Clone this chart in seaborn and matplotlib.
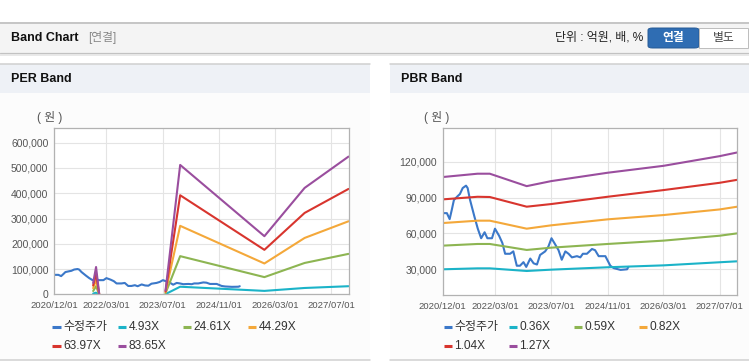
import pandas as pd
import numpy as np
import matplotlib
matplotlib.use('Agg')
import matplotlib.pyplot as plt
import matplotlib.dates as mdates
import seaborn as sns
from matplotlib.patches import Rectangle, FancyBboxPatch
from matplotlib.lines import Line2D
from matplotlib.ticker import FuncFormatter

# ---- data ----
price_dates = ['2020-12-01', '2021-01-08', '2021-02-01', '2021-02-20', '2021-03-10', '2021-04-09',
               '2021-05-01', '2021-05-25', '2021-06-23', '2021-07-07', '2021-07-28', '2021-09-04',
               '2021-10-03', '2021-11-01', '2021-12-01', '2021-12-25', '2022-02-03', '2022-03-01',
               '2022-04-06', '2022-05-04', '2022-05-28', '2022-07-10', '2022-08-07', '2022-09-06',
               '2022-10-04', '2022-11-03', '2022-11-27', '2023-01-01', '2023-01-30', '2023-02-28',
               '2023-03-27', '2023-05-10', '2023-06-07', '2023-07-04', '2023-08-04', '2023-09-03',
               '2023-10-01', '2023-11-01', '2023-11-29', '2023-12-28', '2024-02-10', '2024-03-10',
               '2024-04-01', '2024-05-06', '2024-06-19', '2024-07-16', '2024-08-16', '2024-10-13',
               '2024-11-25', '2024-12-25', '2025-02-22', '2025-04-19', '2025-05-01']
price_vals = [77000, 77000, 72000, 80000, 88000, 91000,
              93000, 98000, 100000, 98000, 88000, 74000,
              64000, 56000, 61000, 56000, 56000, 64000,
              58000, 52000, 43000, 43000, 45000, 33000,
              33000, 36000, 32000, 39000, 35000, 34000,
              42000, 45000, 49000, 56000, 51000, 46000,
              38000, 45000, 43000, 40000, 41000, 40000,
              43000, 43000, 47000, 46000, 41000, 41000,
              33000, 31000, 29500, 30000, 32000]

per_labels = ['4.93X', '24.61X', '44.29X', '63.97X', '83.65X']
per_spike_dates = ['2021-11-06', '2021-12-01', '2021-12-28']
per_spike_vals = [[3000, 6400, 200],
                  [13000, 32000, 900],
                  [24000, 57000, 1500],
                  [35000, 83000, 2000],
                  [45000, 108000, 3000]]
per_main_dates = ['2023-07-27', '2023-12-01', '2025-12-01', '2026-11-15', '2027-12-01']
per_main_vals = [[800, 30000, 13500, 25000, 32000],
                 [4000, 151000, 68000, 124000, 160000],
                 [8000, 271000, 122000, 223000, 289000],
                 [11000, 392000, 176000, 322000, 417000],
                 [15000, 512000, 230000, 421000, 545000]]

pbr_labels = ['0.36X', '0.59X', '0.82X', '1.04X', '1.27X']
pbr_dates = ['2020-12-01', '2021-10-01', '2022-01-15', '2022-12-01', '2023-07-01',
             '2024-11-01', '2026-03-01', '2027-07-01', '2027-12-01']
pbr_vals = [[30000, 30800, 30800, 28600, 29700, 31700, 33300, 35900, 36700],
            [49800, 51200, 51200, 46200, 48100, 51200, 54000, 58100, 60100],
            [68700, 70700, 70700, 64000, 66800, 71800, 75400, 80100, 82400],
            [88500, 90700, 90500, 82400, 84600, 90700, 96300, 102400, 104900],
            [107200, 110000, 110000, 99600, 103800, 110800, 116600, 124700, 127800]]

xtick_dates = ['2020-12-01', '2022-03-01', '2023-07-01', '2024-11-01', '2026-03-01', '2027-07-01']

price_color = '#3b78c9'
band_colors = ['#1bb3c8', '#8db552', '#f4a83a', '#d8352e', '#9a4e9e']

# ---- long tables for seaborn ----
price_df = pd.DataFrame({'date': pd.to_datetime(price_dates), 'value': price_vals})

rows = []
for name, sv, mv in zip(per_labels, per_spike_vals, per_main_vals):
    for d, v in zip(per_spike_dates, sv):
        rows.append((d, v, name, 0))
    for d, v in zip(per_main_dates, mv):
        rows.append((d, v, name, 1))
per_df = pd.DataFrame(rows, columns=['date', 'value', 'band', 'seg'])
per_df['date'] = pd.to_datetime(per_df['date'])

rows = []
for name, vals in zip(pbr_labels, pbr_vals):
    for d, v in zip(pbr_dates, vals):
        rows.append((d, v, name))
pbr_df = pd.DataFrame(rows, columns=['date', 'value', 'band'])
pbr_df['date'] = pd.to_datetime(pbr_df['date'])

sns.set_style('white')
plt.rcParams['font.family'] = ['Liberation Sans', 'Noto Sans CJK KR']
plt.rcParams['axes.unicode_minus'] = False

W, H = 749, 364
fig = plt.figure(figsize=(W / 100, H / 100), dpi=100)
fig.patch.set_facecolor('white')


def fx(px):
    return px / W


def fy(py):
    return 1 - py / H


def box(x0, y0, x1, y1, **kw):
    kw.setdefault('zorder', -5)
    fig.add_artist(Rectangle((fx(x0), fy(y1)), (x1 - x0) / W, (y1 - y0) / H,
                             transform=fig.transFigure, **kw))


def hline(x0, x1, y, color, lw=1.0, zorder=-4):
    fig.add_artist(Line2D([fx(x0), fx(x1)], [fy(y), fy(y)], transform=fig.transFigure,
                          color=color, lw=lw * 0.72, zorder=zorder))


# header bar
box(0, 22.5, W, 53, facecolor='#f4f4f4', edgecolor='none')
hline(0, W, 22.5, '#b8b8b8', 1.5)
hline(0, W, 53, '#c2c2c2', 1.2)
hline(0, W, 54.5, '#e2e2e2', 1.5)
fig.text(fx(11), fy(38), 'Band Chart', fontsize=9, fontweight='bold', color='#111', va='center')
fig.text(fx(88), fy(38), '[연결]', fontsize=8.5, color='#888', va='center')
fig.text(fx(643), fy(38), '단위 : 억원, 배, %', fontsize=8.6, color='#222', va='center', ha='right')
fig.add_artist(FancyBboxPatch((fx(648), fy(48)), 51 / W, 20 / H, boxstyle='round,pad=0,rounding_size=0.006',
                              transform=fig.transFigure, facecolor='#2f6db3', edgecolor='#255a96', lw=0.7))
fig.text(fx(673.5), fy(38), '연결', fontsize=8.5, fontweight='bold', color='white', va='center', ha='center')
box(699, 28, 748, 48, facecolor='white', edgecolor='#bdbdbd', lw=0.7, zorder=1)
fig.text(fx(723.5), fy(38), '별도', fontsize=8.5, color='#444', va='center', ha='center')

# panels
for x0, x1, title in [(0, 370, 'PER Band'), (390, W, 'PBR Band')]:
    box(x0, 64, x1, 93, facecolor='#eef1f6', edgecolor='none')
    box(x0, 93, x1, 360, facecolor='#fcfcfc', edgecolor='none')
    hline(x0, x1, 63.8, '#cfcfcf', 1.5)
    hline(x0, x1, 360, '#d0d0d0', 1.5)
    fig.text(fx(x0 + 11), fy(79), title, fontsize=9, fontweight='bold', color='#111', va='center')

ax1 = fig.add_axes([fx(54), fy(294.3), (348.5 - 54) / W, (294.3 - 128.3) / H])
ax2 = fig.add_axes([fx(442.5), fy(295), (737.3 - 442.5) / W, (295 - 128.3) / H])

sns.lineplot(data=price_df, x='date', y='value', color=price_color, lw=1.5, ax=ax1)
sns.lineplot(data=per_df, x='date', y='value', hue='band', hue_order=per_labels, units='seg',
             estimator=None, sort=False, palette=band_colors, lw=1.5, legend=False, ax=ax1)

sns.lineplot(data=price_df, x='date', y='value', color=price_color, lw=1.5, ax=ax2)
sns.lineplot(data=pbr_df, x='date', y='value', hue='band', hue_order=pbr_labels,
             estimator=None, sort=False, palette=band_colors, lw=1.5, legend=False, ax=ax2)

ax1.set_ylim(0, 657000)
ax1.set_yticks(range(0, 600001, 100000))
ax2.set_ylim(8500, 148000)
ax2.set_yticks(range(30000, 120001, 30000))

for ax in (ax1, ax2):
    ax.set_xlim(pd.Timestamp('2020-12-01'), pd.Timestamp('2027-12-01'))
    ax.set_xticks(pd.to_datetime(xtick_dates))
    ax.xaxis.set_major_formatter(mdates.DateFormatter('%Y/%m/%d'))
    ax.yaxis.set_major_formatter(FuncFormatter(lambda v, p: f'{v:,.0f}'))
    ax.set_xlabel('')
    ax.set_ylabel('')
    ax.grid(True, color='#e4e4e4', lw=0.8)
    ax.set_axisbelow(True)
    for s in ax.spines.values():
        s.set_color('#b2b2b2')
        s.set_linewidth(0.9)
    ax.tick_params(axis='x', labelsize=6.8, colors='#555', length=3, width=0.6, pad=2, color='#b2b2b2')
    ax.tick_params(axis='y', labelsize=7.5, colors='#555', length=0, pad=4)
    ax.set_facecolor('white')

fig.text(fx(50), fy(118), '( 원 )', fontsize=8.5, color='#555', ha='center', va='center')
fig.text(fx(437), fy(118), '( 원 )', fontsize=8.5, color='#555', ha='center', va='center')


def draw_legend(x0, labels, colors):
    for k, (lab, col) in enumerate(zip(labels, colors)):
        r, c = divmod(k, 4)
        x = x0 + 65 * c
        y = 327 + 19 * r
        fig.add_artist(Line2D([fx(x), fx(x + 8.5)], [fy(y), fy(y)], transform=fig.transFigure,
                              color=col, lw=2.2, solid_capstyle='butt'))
        fig.text(fx(x + 11), fy(y), lab, fontsize=8.6, color='#333', va='center')


draw_legend(52.5, ['수정주가'] + per_labels, [price_color] + band_colors)
draw_legend(443.5, ['수정주가'] + pbr_labels, [price_color] + band_colors)

fig.savefig('out.png', dpi=100, facecolor='white')
